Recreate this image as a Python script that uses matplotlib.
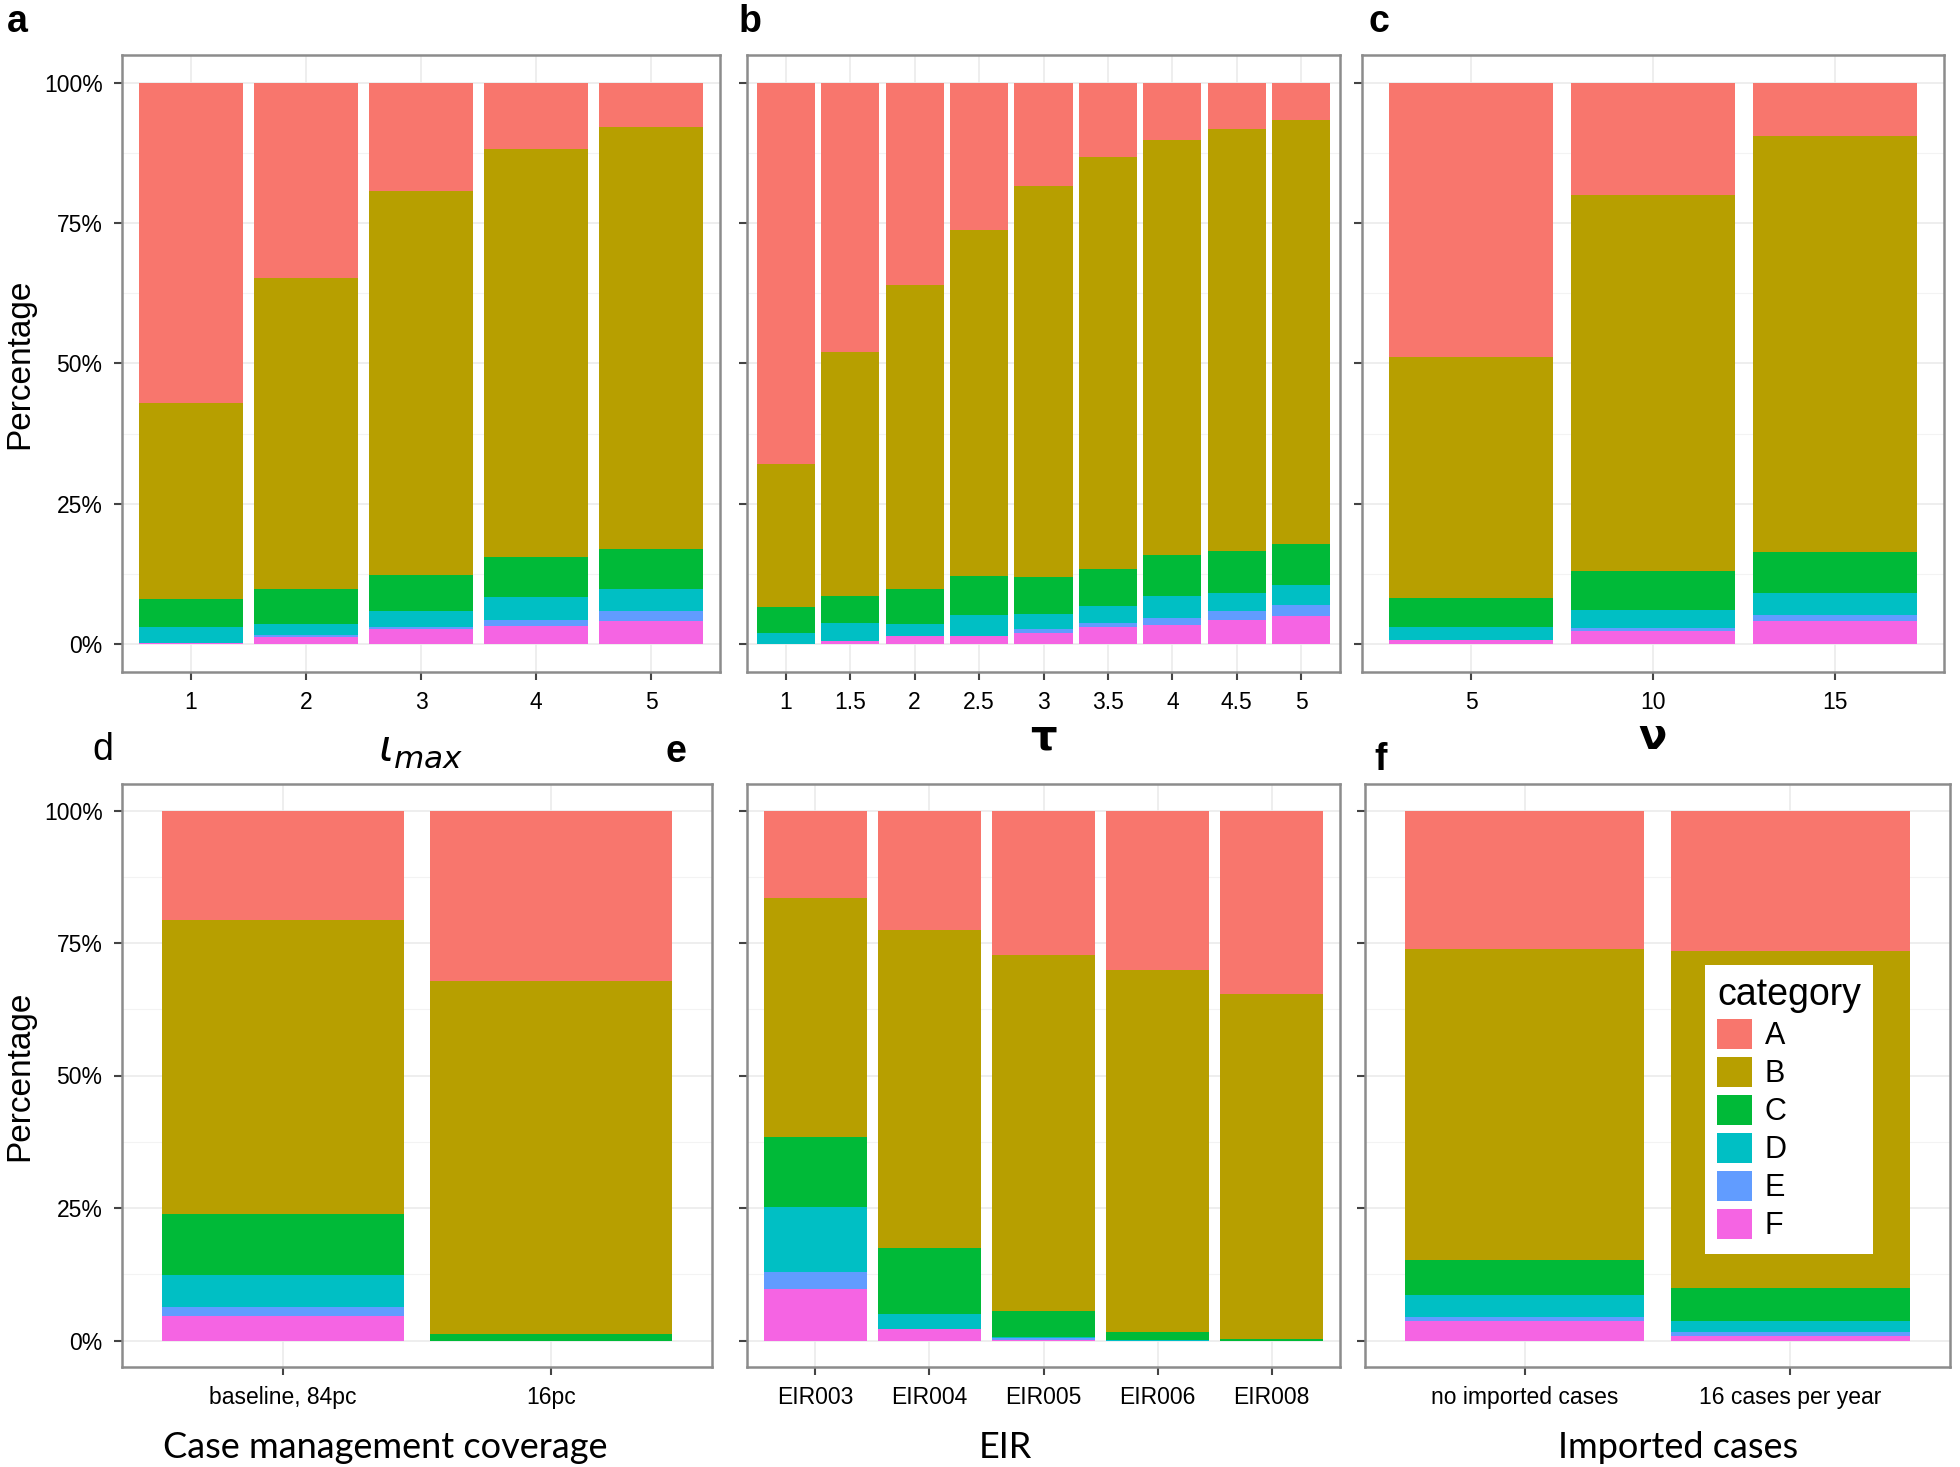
import matplotlib.pyplot as plt
import numpy as np
from matplotlib.patches import Patch
from matplotlib.ticker import FixedLocator, PercentFormatter, NullFormatter

plt.rcParams['font.family'] = ['Liberation Sans', 'DejaVu Sans']

cats = ["A", "B", "C", "D", "E", "F"]
colors = ["#F8766D", "#B79F00", "#00BA38", "#00BFC4", "#619CFF", "#F564E3"]

# panel a: iota max
a_x = ["1", "2", "3", "4", "5"]
a_A = [57.1, 34.7, 19.3, 11.8, 8.0]
a_B = [34.8, 55.5, 68.3, 72.6, 75.0]
a_C = [5.0, 6.2, 6.5, 7.2, 7.2]
a_D = [2.8, 1.9, 2.8, 4.1, 3.9]
a_E = [0.0, 0.3, 0.3, 1.1, 1.8]
a_F = [0.3, 1.4, 2.8, 3.2, 4.1]

# panel b: tau
b_x = ["1", "1.5", "2", "2.5", "3", "3.5", "4", "4.5", "5"]
b_A = [67.8, 48.0, 36.0, 26.2, 18.4, 13.3, 10.2, 8.2, 6.7]
b_B = [25.6, 43.3, 54.2, 61.6, 69.6, 73.3, 73.9, 75.1, 75.5]
b_C = [4.6, 4.9, 6.2, 7.0, 6.6, 6.5, 7.2, 7.6, 7.3]
b_D = [2.0, 3.1, 2.1, 3.7, 2.6, 3.1, 4.0, 3.2, 3.5]
b_E = [0.0, 0.0, 0.0, 0.0, 0.7, 0.7, 1.3, 1.5, 2.0]
b_F = [0.0, 0.7, 1.5, 1.5, 2.1, 3.1, 3.4, 4.4, 5.0]

# panel c: nu
c_x = ["5", "10", "15"]
c_A = [48.9, 20.0, 9.6]
c_B = [42.9, 66.9, 73.9]
c_C = [5.1, 6.9, 7.4]
c_D = [2.3, 3.2, 3.8]
c_E = [0.0, 0.6, 1.2]
c_F = [0.8, 2.4, 4.1]

# panel d: case management coverage
d_x = ["baseline, 84pc", "16pc"]
d_A = [20.6, 32.1]
d_B = [55.5, 66.65]
d_C = [11.6, 1.25]
d_D = [6.05, 0.0]
d_E = [1.65, 0.0]
d_F = [4.6, 0.0]

# panel e: EIR
e_x = ["EIR003", "EIR004", "EIR005", "EIR006", "EIR008"]
e_A = [16.6, 22.5, 27.2, 30.0, 34.7]
e_B = [45.0, 60.1, 67.3, 68.4, 65.05]
e_C = [13.3, 12.4, 4.75, 1.5, 0.25]
e_D = [12.2, 2.9, 0.3, 0.1, 0.0]
e_E = [3.2, 0.0, 0.3, 0.0, 0.0]
e_F = [9.7, 2.1, 0.15, 0.0, 0.0]

# panel f: imported cases
f_x = ["no imported cases", "16 cases per year"]
f_A = [26.2, 26.5]
f_B = [58.6, 63.6]
f_C = [6.6, 6.3]
f_D = [4.1, 2.0]
f_E = [0.75, 0.7]
f_F = [3.75, 0.9]

W, H = 1960, 1467
fig = plt.figure(figsize=(W / 100, H / 100), dpi=100)


def box(l, t, r, b):
    return [l / W, 1 - b / H, (r - l) / W, (b - t) / H]


def panel(rect, xl, series, ylabels, tick_fs, ypad):
    ax = fig.add_axes(rect)
    x = np.arange(len(xl))
    vals = [np.array(s, dtype=float) for s in series]
    total = sum(vals)
    # stack from F (bottom) to A (top), normalised to 100%
    bottom = np.zeros(len(xl))
    for i in range(5, -1, -1):
        h = vals[i] / total
        ax.bar(x, h, 0.9, bottom=bottom, color=colors[i], linewidth=0, zorder=2)
        bottom += h
    ax.set_xlim(-0.6, len(xl) - 0.4)
    ax.set_ylim(-ypad, 1 + ypad)
    ax.set_xticks(x)
    ax.set_xticklabels(xl, fontsize=tick_fs)
    ax.yaxis.set_major_locator(FixedLocator([0, 0.25, 0.5, 0.75, 1.0]))
    ax.yaxis.set_minor_locator(FixedLocator([0.125, 0.375, 0.625, 0.875]))
    if ylabels:
        ax.yaxis.set_major_formatter(PercentFormatter(1.0, decimals=0))
    else:
        ax.yaxis.set_major_formatter(NullFormatter())
    ax.tick_params(axis='both', which='major', length=6, width=1.5,
                   color='#444444', labelsize=tick_fs, pad=8)
    ax.tick_params(axis='y', which='minor', length=0)
    ax.grid(True, which='major', color='#ebebeb', linewidth=1.2, zorder=0)
    ax.grid(True, which='minor', axis='y', color='#f3f3f3', linewidth=0.8, zorder=0)
    for s in ax.spines.values():
        s.set_color('#8c8c8c')
        s.set_linewidth(1.8)
    return ax


ax_a = panel(box(122, 55, 720, 672), a_x, [a_A, a_B, a_C, a_D, a_E, a_F], True, 16.5, 0.049)
ax_b = panel(box(747, 55, 1340, 672), b_x, [b_A, b_B, b_C, b_D, b_E, b_F], False, 16.5, 0.049)
ax_c = panel(box(1362, 55, 1944, 672), c_x, [c_A, c_B, c_C, c_D, c_E, c_F], False, 16.5, 0.049)
ax_d = panel(box(122, 784, 712, 1367), d_x, [d_A, d_B, d_C, d_D, d_E, d_F], True, 16.5, 0.05)
ax_e = panel(box(747, 784, 1340, 1367), e_x, [e_A, e_B, e_C, e_D, e_E, e_F], False, 16.5, 0.05)
ax_f = panel(box(1365, 784, 1950, 1367), f_x, [f_A, f_B, f_C, f_D, f_E, f_F], False, 16.5, 0.05)

for ax in (ax_a, ax_d):
    ax.set_ylabel("Percentage", fontsize=24, labelpad=6)

# axis titles
fig.text(421 / W, 1 - 750 / H, r'$\iota_{max}$', fontsize=32, ha='center', va='center')
fig.text(1043 / W, 1 - 737 / H, "τ", fontsize=30, fontweight='bold', ha='center', va='center',
         family='DejaVu Sans')
fig.text(1653 / W, 1 - 737 / H, "ν", fontsize=30, fontweight='bold', ha='center', va='center',
         family='DejaVu Sans')
fig.text(385 / W, 1 - 1448 / H, "Case management coverage", fontsize=26, ha='center', va='center',
         family='Lato')
fig.text(1005 / W, 1 - 1448 / H, "EIR", fontsize=26, ha='center', va='center', family='Lato')
fig.text(1678 / W, 1 - 1448 / H, "Imported cases", fontsize=26, ha='center', va='center',
         family='Lato')

# panel letters
for lab, px, py, wt in [("a", 17, 22, 'bold'), ("b", 750, 22, 'bold'), ("c", 1379, 22, 'bold'),
                        ("d", 103, 750, 'normal'), ("e", 676, 752, 'bold'), ("f", 1381, 760, 'bold')]:
    fig.text(px / W, 1 - py / H, lab, fontsize=27, fontweight=wt, ha='center', va='center')

handles = [Patch(facecolor=colors[i], edgecolor='none', label=cats[i]) for i in range(6)]
leg = fig.legend(handles=handles, title="category", loc='upper left',
                 bbox_to_anchor=(1705 / W, 1 - 965 / H), fontsize=22, title_fontsize=27,
                 frameon=True, fancybox=False, handlelength=1.15, handleheight=1.15,
                 labelspacing=0.18, handletextpad=0.4, borderpad=0.4, borderaxespad=0)
leg.get_frame().set_edgecolor('none')
leg.get_frame().set_facecolor('white')
leg.get_frame().set_alpha(1)
leg._legend_box.align = "left"

fig.savefig("out.png", dpi=100)
